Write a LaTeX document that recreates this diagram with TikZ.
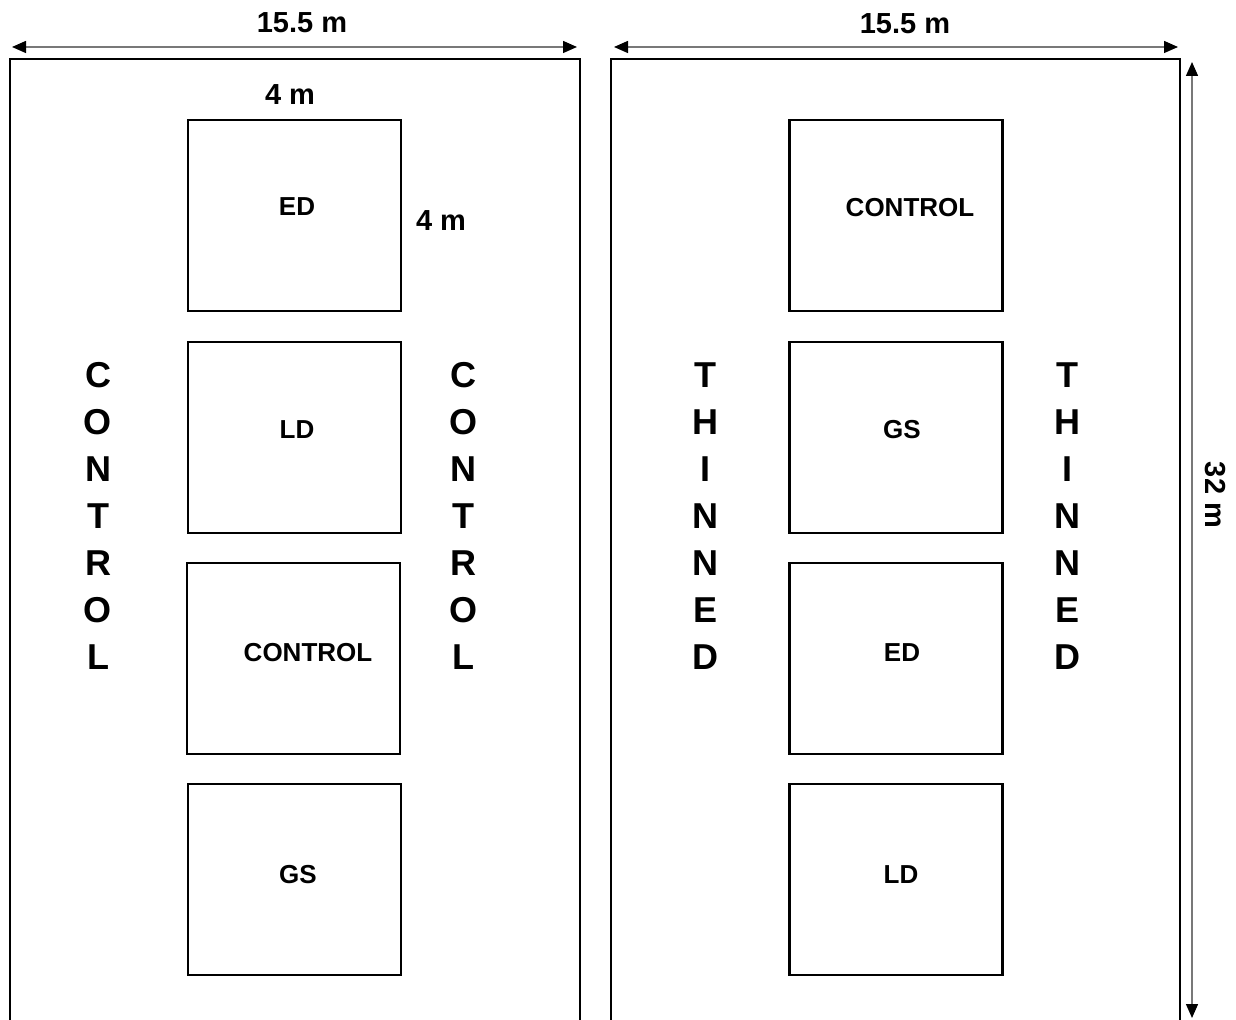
\documentclass[tikz,border=0pt]{standalone}
\usepackage{fontspec}
\setmainfont{Liberation Sans}
\usetikzlibrary{arrows.meta,positioning}
\definecolor{dimgray}{RGB}{120,120,120}

\begin{document}
\begin{tikzpicture}[x=0.5pt, y=-0.5pt, line join=miter,
    dimline/.style={dimgray, line width=0.7pt, {Triangle[length=7pt,width=6pt,black]}-{Triangle[length=7pt,width=6pt,black]}},
    plotedge/.style={black, line width=1.1pt},
    subplot/.style={draw, line width=1.1pt, minimum width=106.5pt, minimum height=95.5pt, inner sep=0pt},
    boxlbl/.style={font=\fontsize{13}{15}\selectfont\bfseries, inner sep=0pt},
    dimlbl/.style={font=\fontsize{14.5}{16}\selectfont\bfseries, inner sep=0pt},
    bigword/.style={font=\fontsize{18}{23.5}\selectfont\bfseries, align=center, inner sep=0pt}]
  \useasboundingbox (0,0) rectangle (1236,1020);
  % main plots (open at the bottom)
  \draw[plotedge] (10,1020) -- (10,59) -- (580,59) -- (580,1020);
  \draw[plotedge] (611,1020) -- (611,59) -- (1180,59) -- (1180,1020);
  % dimension arrows
  \coordinate (dl1) at (12,47);
  \coordinate (dl2) at (577,47);
  \coordinate (dr1) at (614,47);
  \coordinate (dr2) at (1178,47);
  \coordinate (dv1) at (1192,62);
  \coordinate (dv2) at (1192,1018);
  \draw[dimline] (dl1) -- (dl2);
  \draw[dimline] (dr1) -- (dr2);
  \draw[dimline] (dv1) -- (dv2);
  \node[dimlbl] (wl) at (302,23) {15.5 m};
  \node[dimlbl] (wr) at (905,24) {15.5 m};
  \node[dimlbl, rotate=-90] (hgt) at (1215,495) {32 m};
  % left plot subplots
  \node[subplot] (led) at (294.5,215.5) {};
  \node[subplot] (lld) at (294.5,437.5) {};
  \node[subplot] (lco) at (293.5,658.5) {};
  \node[subplot] (lgs) at (294.5,879.5) {};
  \node[boxlbl] at (297,207) {ED};
  \node[boxlbl] at (297,430) {LD};
  \node[boxlbl] at (308,653) {CONTROL};
  \node[boxlbl] at (298,875) {GS};
  \node[dimlbl] (sw) at (290,95) {4 m};
  \node[dimlbl] (sh) at (441,221) {4 m};
  % right plot subplots
  \node[subplot] (rco) at (896,215.5) {};
  \node[subplot] (rgs) at (896,437.5) {};
  \node[subplot] (red) at (896,658.5) {};
  \node[subplot] (rld) at (896,879.5) {};
  \node[boxlbl] at (910,208) {CONTROL};
  \node[boxlbl] at (902,430) {GS};
  \node[boxlbl] at (902,653) {ED};
  \node[boxlbl] at (901,875) {LD};
  % border treatments
  \node[bigword] (lw1) at (98,516) {C\\O\\N\\T\\R\\O\\L};
  \node[bigword] (lw2) at (463,516) {C\\O\\N\\T\\R\\O\\L};
  \node[bigword] (rw1) at (705,516) {T\\H\\I\\N\\N\\E\\D};
  \node[bigword] (rw2) at (1067,516) {T\\H\\I\\N\\N\\E\\D};
\end{tikzpicture}
\end{document}
